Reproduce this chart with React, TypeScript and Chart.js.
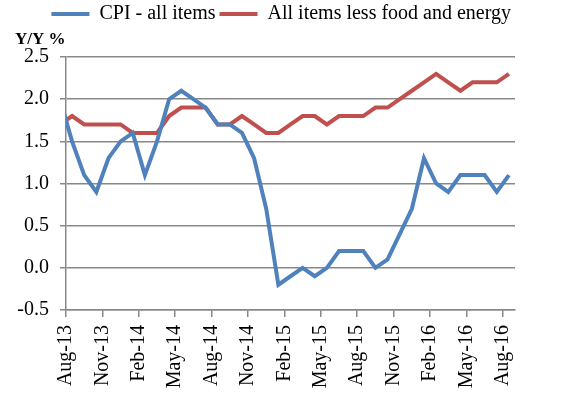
import { useEffect, useRef } from 'react';
import { Chart, registerables } from 'chart.js';

Chart.register(...registerables);

// Months (the first one, Jul-13, lies just before the axis start and is clipped)
const months = [
  'Jul-13', 'Aug-13', 'Sep-13', 'Oct-13', 'Nov-13', 'Dec-13',
  'Jan-14', 'Feb-14', 'Mar-14', 'Apr-14', 'May-14', 'Jun-14', 'Jul-14', 'Aug-14', 'Sep-14', 'Oct-14', 'Nov-14', 'Dec-14',
  'Jan-15', 'Feb-15', 'Mar-15', 'Apr-15', 'May-15', 'Jun-15', 'Jul-15', 'Aug-15', 'Sep-15', 'Oct-15', 'Nov-15', 'Dec-15',
  'Jan-16', 'Feb-16', 'Mar-16', 'Apr-16', 'May-16', 'Jun-16', 'Jul-16', 'Aug-16',
];

const cpiAllItems = [
  2.0, 1.5, 1.1, 0.9, 1.3, 1.5,
  1.6, 1.1, 1.5, 2.0, 2.1, 2.0, 1.9, 1.7, 1.7, 1.6, 1.3, 0.7,
  -0.2, -0.1, 0.0, -0.1, 0.0, 0.2, 0.2, 0.2, 0.0, 0.1, 0.4, 0.7,
  1.3, 1.0, 0.9, 1.1, 1.1, 1.1, 0.9, 1.1,
];

const cpiLessFoodEnergy = [
  1.7, 1.8, 1.7, 1.7, 1.7, 1.7,
  1.6, 1.6, 1.6, 1.8, 1.9, 1.9, 1.9, 1.7, 1.7, 1.8, 1.7, 1.6,
  1.6, 1.7, 1.8, 1.8, 1.7, 1.8, 1.8, 1.8, 1.9, 1.9, 2.0, 2.1,
  2.2, 2.3, 2.2, 2.1, 2.2, 2.2, 2.2, 2.3,
];

const seriesLabels = ['CPI - all items', 'All items less food and energy'];
const seriesColors = ['#4F81BD', '#C0504D'];
const yMin = -0.5;
const yMax = 2.5;
const yStep = 0.5;
const monthsPerTick = 3;

Chart.defaults.font.family = "'Liberation Serif', 'Times New Roman', serif";

export default function App() {
  const ref = useRef<HTMLCanvasElement>(null);

  useEffect(() => {
    if (!ref.current) return;
    // month i is centred half a month after the start of that month
    const toPoints = (vals: number[]) => vals.map((v, i) => ({ x: i - 0.5, y: v }));
    const chart = new Chart(ref.current, {
      type: 'line',
      data: {
        datasets: [
          {
            label: seriesLabels[0],
            data: toPoints(cpiAllItems),
            borderColor: seriesColors[0],
            backgroundColor: seriesColors[0],
            borderWidth: 4,
            pointRadius: 0,
            tension: 0,
            clip: 0,
          },
          {
            label: seriesLabels[1],
            data: toPoints(cpiLessFoodEnergy),
            borderColor: seriesColors[1],
            backgroundColor: seriesColors[1],
            borderWidth: 4,
            pointRadius: 0,
            tension: 0,
            clip: 0,
          },
        ],
      },
      options: {
        animation: false,
        responsive: false,
        devicePixelRatio: 1,
        layout: { padding: { left: 15, right: 54, top: 0, bottom: 0 } },
        plugins: {
          legend: {
            position: 'top',
            align: 'end',
            labels: {
              boxWidth: 38,
              boxHeight: 4,
              padding: 4,
              color: '#000',
              font: { size: 20 },
              generateLabels: (c: any) =>
                (Chart.defaults.plugins.legend.labels as any)
                  .generateLabels(c)
                  .map((l: any) => ({ ...l, lineWidth: 0 })),
            },
          },
          title: {
            display: true,
            text: 'Y/Y %',
            align: 'start',
            weight: 900,
            color: '#000',
            font: { size: 17, weight: 'bold' },
            padding: { top: -5, bottom: 7.6 },
          } as any,
          tooltip: { enabled: false },
        },
        scales: {
          x: {
            type: 'linear',
            min: 0,
            max: months.length - 1,
            afterFit: (s: any) => {
              s.height = 86;
            },
            grid: {
              drawOnChartArea: false,
              drawTicks: true,
              tickLength: 7,
              color: '#888',
              lineWidth: 1.5,
            },
            border: { color: '#888', width: 1.5 },
            ticks: {
              stepSize: monthsPerTick,
              includeBounds: false,
              autoSkip: false,
              maxRotation: 90,
              minRotation: 90,
              padding: 8,
              color: '#000',
              font: { size: 20 },
              callback: (v: any) => months[Number(v) + 1] ?? '',
            },
          },
          y: {
            min: yMin,
            max: yMax,
            afterFit: (s: any) => {
              s.width = 51;
            },
            grid: { color: '#888', lineWidth: 1.5, tickLength: 6 },
            border: { color: '#888', width: 1.5 },
            ticks: {
              stepSize: yStep,
              padding: 11,
              color: '#000',
              font: { size: 20 },
              callback: (v: any) => Number(v).toFixed(1),
            },
          },
        },
      } as any,
    });
    return () => chart.destroy();
  }, []);

  return (
    <div style={{ position: 'absolute', left: 0, top: 0, width: 569, height: 396, background: '#fff' }}>
      <canvas ref={ref} width={569} height={396} style={{ width: 569, height: 396, display: 'block' }} />
    </div>
  );
}
